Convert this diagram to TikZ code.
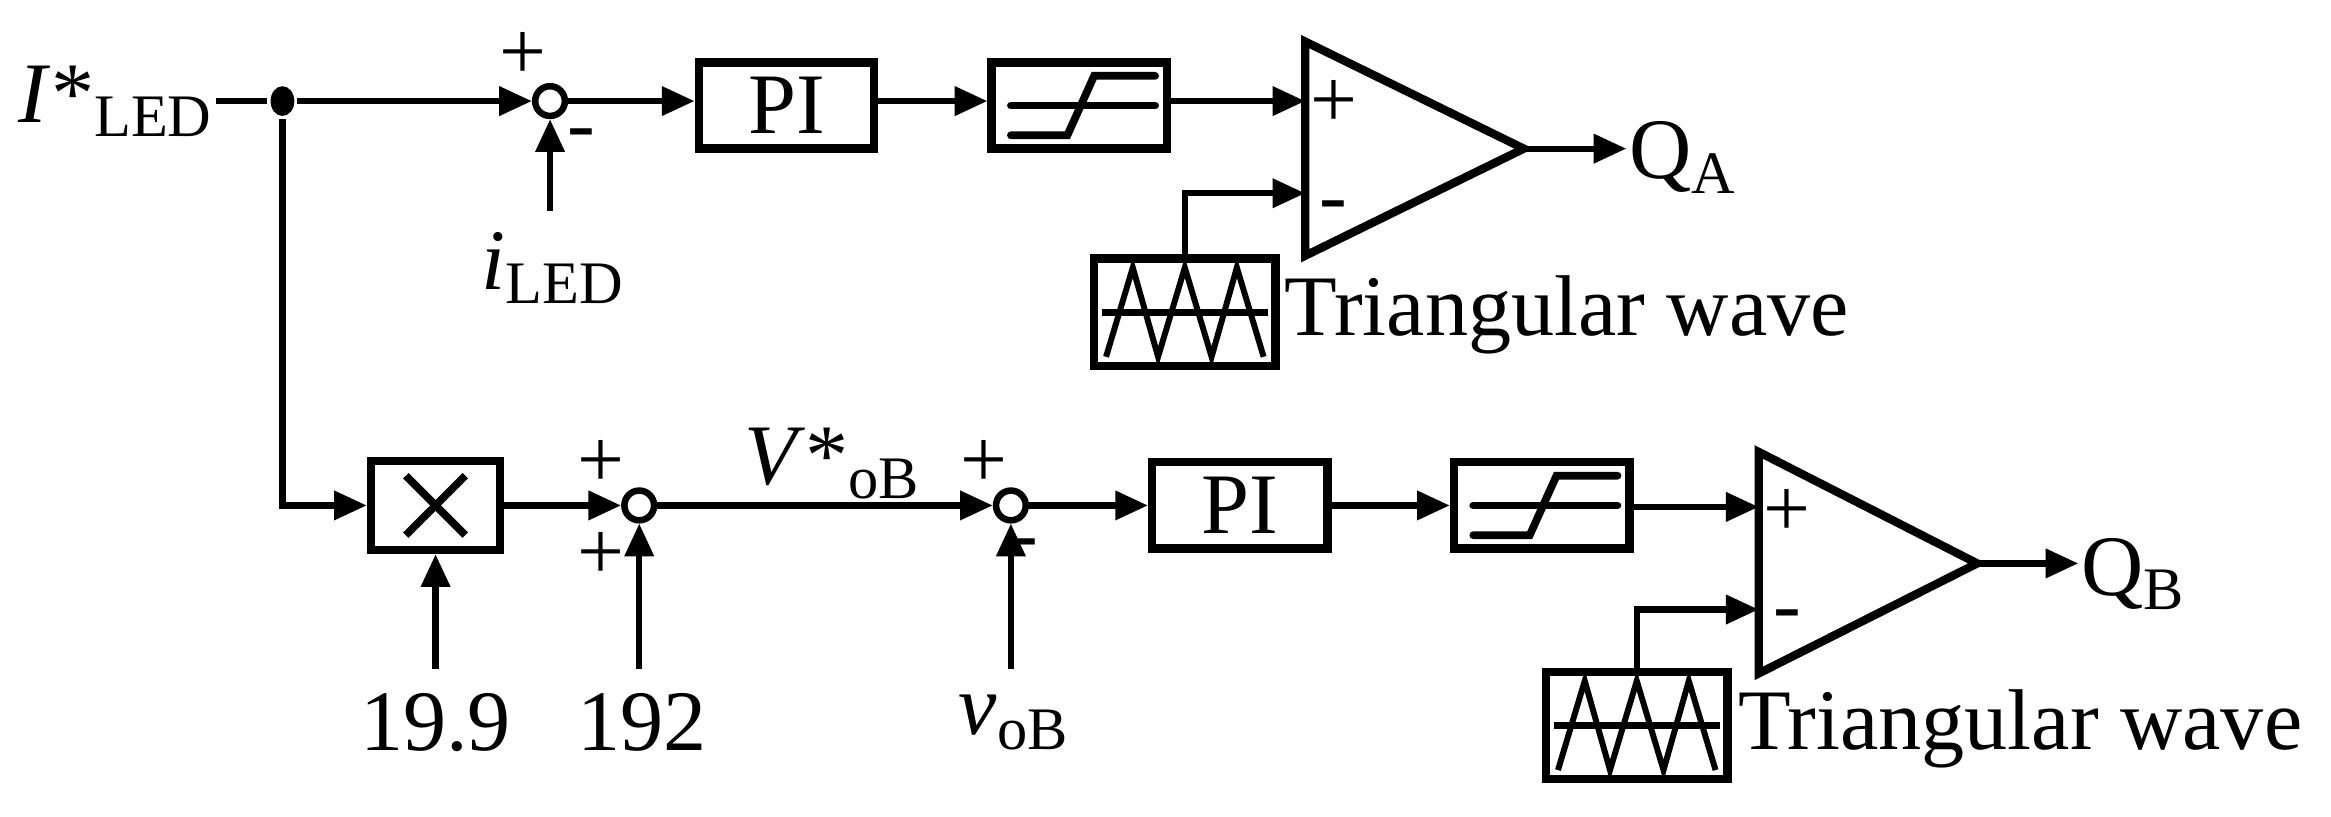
\documentclass[tikz,border=0pt]{standalone}
\usepackage{fontspec}
\setmainfont{Liberation Serif}
\usetikzlibrary{arrows.meta,shapes.geometric}
\newcommand{\satsym}[1]{\draw[line width=2.6pt,line cap=round] ([shift={(-46,0)}]#1.center) -- ([shift={(51,0)}]#1.center);
 \draw[line width=2.6pt,line cap=round] ([shift={(-46,20)}]#1.center) -- ([shift={(-8,20)}]#1.center) -- ([shift={(10,-20)}]#1.center) -- ([shift={(51,-20)}]#1.center);}
\newcommand{\trisym}[1]{\draw[line width=2.4pt] ([shift={(-56,0)}]#1.center) -- ([shift={(56,0)}]#1.center);
 \draw[line width=2pt] ([shift={(-53,30)}]#1.center) -- ([shift={(-35,-30)}]#1.center) -- ([shift={(-18,30)}]#1.center) -- ([shift={(0,-30)}]#1.center) -- ([shift={(18,30)}]#1.center) -- ([shift={(35,-30)}]#1.center) -- ([shift={(53,30)}]#1.center);}
\begin{document}
\begin{tikzpicture}[x=0.5pt,y=-0.5pt,line width=2.1pt,>={Triangle[length=11pt,width=9.5pt]},
 blk/.style={draw,line width=2.8pt,minimum width=59pt,minimum height=29pt,inner sep=0,font=\fontsize{29}{30}\selectfont},
 tw/.style={draw,line width=2.8pt,minimum width=61pt,minimum height=36pt,inner sep=0},
 sum/.style={draw,circle,line width=2.2pt,minimum size=10pt,inner sep=0},
 lbl/.style={font=\fontsize{29}{30}\selectfont,inner sep=0},
 sg/.style={font=\fontsize{28}{30}\selectfont,inner sep=0}]
\useasboundingbox (0,0) rectangle (1568,549);
% top
\node[lbl] (iref) at (78,68) {\textit{I}*\textsubscript{LED}};
\node[fill,ellipse,inner sep=0,minimum width=8pt,minimum height=10pt] (dot) at (190,68) {};
\draw (iref.east) -- (dot);
\node[sum] (s1) at (370,68) {};
\node[blk] (pi1) at (529,71) {PI};
\node[blk] (sat1) at (726,71) {};
\satsym{sat1}
\draw[->] (dot) -- (s1);
\draw[->] (s1) -- (s1 -| pi1.west);
\draw[->] (pi1.east |- s1) -- (sat1.west |- s1);
\draw[line width=2.8pt] (878,28) coordinate (cAt) -- (1025,100) coordinate (cAo) -- (878,172) coordinate (cAb) -- cycle;
\coordinate (cAp) at (878,68); \coordinate (cAm) at (878,130);
\draw[->] (sat1.east |- cAp) -- (cAp);
\node[lbl,anchor=west] (qa) at (1094,106) {Q\textsubscript{A}};
\draw[->] (cAo) -- (qa.west |- cAo);
\node[tw] (twA) at (797,210) {};
\trisym{twA}
\draw[->] (twA.north) |- (cAm);
\node[lbl,anchor=west] (twAt) at (862,212) {Triangular wave};
\node[lbl] (il) at (372,180) {\textit{i}\textsubscript{LED}};
\draw[->] (370,142) coordinate (ilt) -- (s1);
\node[sg] at (352,38) {+};
\node[sg] at (391,94) {-};
\node[sg] at (897,70) {+};
\node[sg] at (897,143) {-};
% bottom
\node[draw,line width=2.8pt,minimum width=43.5pt,minimum height=30pt,inner sep=0] (mul) at (293,340) {};
\draw[line width=2.6pt] ([shift={(-20,-20)}]mul.center) -- ([shift={(20,20)}]mul.center);
\draw[line width=2.6pt] ([shift={(-20,20)}]mul.center) -- ([shift={(20,-20)}]mul.center);
\draw[->] (dot) |- (mul);
\node[sum] (s2) at (430,340) {};
\draw[->] (mul) -- (s2);
\node[lbl] (n199) at (293,486) {19.9};
\node[lbl] (n192) at (432,486) {192};
\draw[->] (293,450) coordinate (a199) -- (mul.south);
\draw[->] (430,450) coordinate (a192) -- (s2);
\node[sg] at (404,312) {+};
\node[sg] at (404,374) {+};
\node[sum] (s3) at (680,340) {};
\draw[->] (s2) -- (s3);
\node[lbl] at (560,312) {\textit{V}*\textsubscript{oB}};
\node[sg] at (662,312) {+};
\node[sg] at (689,370) {-};
\node[lbl] (vob) at (682,486) {\textit{v}\textsubscript{oB}};
\draw[->] (680,450) coordinate (avob) -- (s3);
\node[blk] (pi2) at (834,340) {PI};
\node[blk] (sat2) at (1037,340) {};
\satsym{sat2}
\draw[->] (s3) -- (pi2);
\draw[->] (pi2) -- (sat2);
\draw[line width=2.8pt] (1183,304) -- (1330,379) coordinate (cBo) -- (1183,453) -- cycle;
\coordinate (cBp) at (1183,341); \coordinate (cBm) at (1183,410);
\draw[->] (sat2.east |- cBp) -- (cBp);
\node[lbl,anchor=west] (qb) at (1398,386) {Q\textsubscript{B}};
\draw[->] (cBo) -- (qb.west |- cBo);
\node[tw] (twB) at (1101,488) {};
\trisym{twB}
\draw[->] (twB.north) |- (cBm);
\node[lbl,anchor=west] at (1167,490) {Triangular wave};
\node[sg] at (1202,345) {+};
\node[sg] at (1202,418) {-};
\end{tikzpicture}
\end{document}
